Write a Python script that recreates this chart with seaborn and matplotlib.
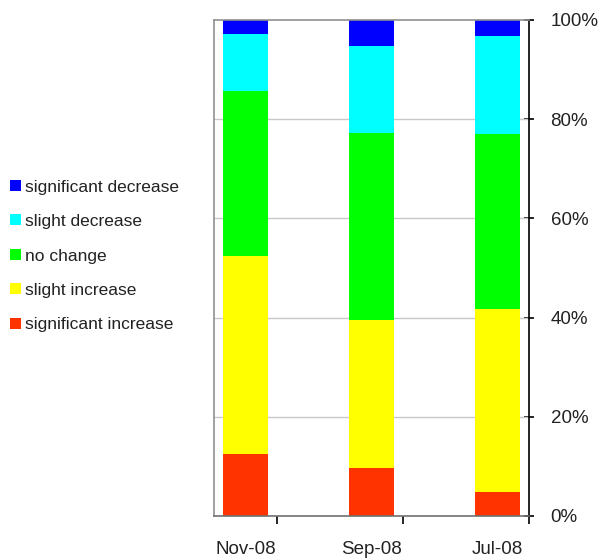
import matplotlib
matplotlib.use("Agg")
import matplotlib.pyplot as plt
import seaborn as sns
import pandas as pd
import numpy as np
from matplotlib.patches import Patch

sns.set_theme(style="white")
plt.rcParams["font.family"] = ["Liberation Sans", "DejaVu Sans"]

# Survey periods and share of responses (%) per answer, bottom to top
periods = ["Nov-08", "Sep-08", "Jul-08"]
significant_increase = [12.6, 9.7, 4.8]
slight_increase = [39.9, 29.9, 37.0]
no_change = [33.2, 37.7, 35.3]
slight_decrease = [11.5, 17.4, 19.7]
significant_decrease = [2.8, 5.3, 3.2]

series_names = ["significant increase", "slight increase", "no change",
                "slight decrease", "significant decrease"]
series_values = [significant_increase, slight_increase, no_change,
                 slight_decrease, significant_decrease]
series_colors = ["#FF3300", "#FFFF00", "#00FF00", "#00FFFF", "#0000FF"]

df = pd.DataFrame({name: vals for name, vals in zip(series_names, series_values)})
df.insert(0, "period", periods)
cum = df[series_names].cumsum(axis=1)

fig = plt.figure(figsize=(6.01, 5.59), dpi=100)
ax = fig.add_axes([214 / 601, 43 / 559, 315 / 601, 496 / 559])

# Stacked bars: draw cumulative totals from the top segment down
for name, color in reversed(list(zip(series_names, series_colors))):
    sns.barplot(x=df["period"], y=cum[name], order=periods, color=color,
                width=0.357, saturation=1, linewidth=0, ax=ax, zorder=2)

ax.set_xlim(-0.25, 2.25)
ax.set_ylim(0, 100)
ax.set_xlabel("")
ax.set_ylabel("")

# Right-hand percentage axis
ax.yaxis.tick_right()
ax.set_yticks([0, 20, 40, 60, 80, 100])
ax.set_yticklabels([f"{v}%" for v in [0, 20, 40, 60, 80, 100]])
ax.tick_params(axis="y", direction="inout", length=7, width=1.2, color="black",
               pad=12, labelsize=13.5, labelcolor="#222222", right=True, left=False)
for v in [20, 40, 60, 80]:
    ax.axhline(v, color="#c8c8c8", linewidth=1, zorder=1)

# Category labels centred under bars, tick marks between categories
ax.set_xticks([0, 1, 2])
ax.set_xticklabels(periods)
ax.tick_params(axis="x", which="major", length=0, pad=18, labelsize=13.5,
               labelcolor="#222222", bottom=True)
ax.set_xticks([0.25, 1.25, 2.25], minor=True)
ax.tick_params(axis="x", which="minor", direction="out", length=6, width=1.2,
               color="black", bottom=True)

for side in ["left", "top", "bottom"]:
    ax.spines[side].set_color("#909090")
    ax.spines[side].set_linewidth(1.2)
ax.spines["right"].set_color("black")
ax.spines["right"].set_linewidth(1.2)
ax.spines["bottom"].set_color("#707070")

handles = [Patch(facecolor=c, edgecolor="none", label=n)
           for n, c in reversed(list(zip(series_names, series_colors)))]
fig.legend(handles=handles, loc="upper left", bbox_to_anchor=(-0.009, 1 - 164 / 559),
           frameon=False, fontsize=12.5, handlelength=0.6, handleheight=0.6,
           handletextpad=0.25, labelspacing=1.12, labelcolor="#222222")

fig.savefig("out.png", dpi=100)
